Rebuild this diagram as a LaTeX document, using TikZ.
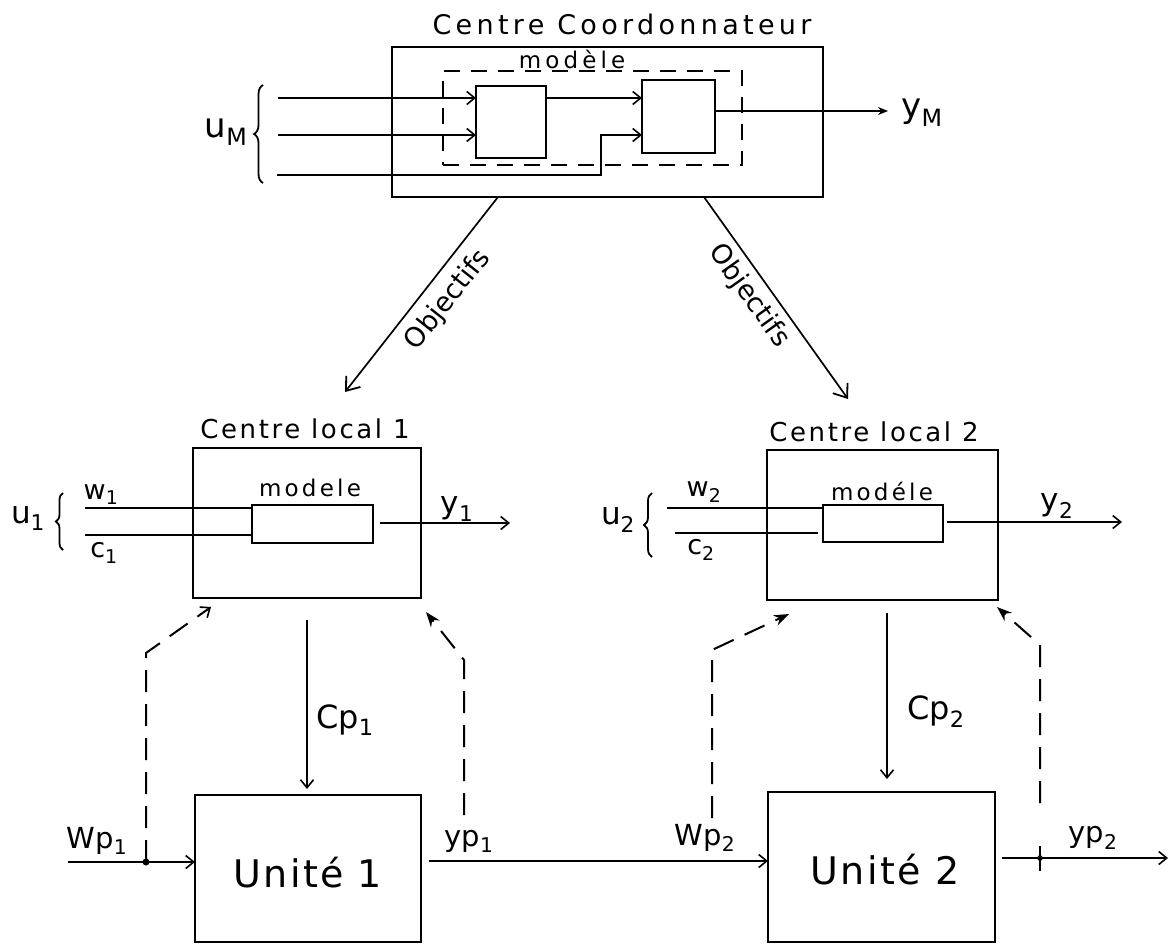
\documentclass[tikz,border=0pt]{standalone}
\usepackage{fontspec}
\setmainfont{DejaVu Sans}
\usetikzlibrary{arrows.meta,decorations.pathreplacing}
\newcommand{\fsz}[1]{\fontsize{#1}{#1}\selectfont}
\newcommand{\lsp}[1]{\addfontfeatures{LetterSpace=#1}}
\begin{document}
\begin{tikzpicture}[x=1pt,y=-1pt,line width=1.7pt,
  box/.style={draw,line width=1.9pt,inner sep=0pt,outer sep=0pt,anchor=north west},
  lbl/.style={inner sep=0pt},
  openarr/.style={-{Straight Barb[length=8pt,width=13pt,line width=1.6pt]}},
  bigarr/.style={-{Straight Barb[length=12pt,width=18pt,line width=1.8pt]}},
  fillarr/.style={-{Stealth[length=15pt,width=11pt]}},
  dsh/.style={dash pattern=on 22pt off 12pt,line width=2pt},
  mdash/.style={dash pattern=on 16pt off 11pt,line width=1.8pt},
  brc/.style={decorate,decoration={brace,amplitude=9pt},line width=1.8pt}]
\useasboundingbox (0,0) rectangle (1172,945);

% ---------------- Centre Coordonnateur ----------------
\node[box,minimum width=431pt,minimum height=150pt] (CC) at (392,47) {};
\node[lbl,font=\fsz{27}\lsp{16}] (tCC) at (622,24) {Centre Coordonnateur};
\node[box,mdash,minimum width=299pt,minimum height=94pt] (MOD) at (443,71) {};
\node[lbl,font=\fsz{23}\lsp{18}] (tMOD) at (572,59) {modèle};
\node[box,line width=1.8pt,minimum width=70pt,minimum height=72pt] (A) at (476,86) {};
\node[box,line width=1.8pt,minimum width=73pt,minimum height=73pt] (B) at (642,80) {};

\coordinate (in1) at (278,98);
\coordinate (in2) at (278,135);
\coordinate (in3) at (277,175);
\coordinate (k3) at (601,175);
\draw[openarr] (in1) -- (A.west |- in1);
\draw[openarr] (in2) -- (A.west |- in2);
\draw[openarr] (in3) -- (k3) -- (k3 |- in2) -- (B.west |- in2);
\draw[openarr] (A.east |- in1) -- (B.west |- in1);
\coordinate (yMt) at (888,111);
\draw[-{Stealth[length=10pt,width=8pt]}] (B.east |- yMt) -- (yMt);
\node[lbl,font=\fsz{34}] (yM) at (922,113) {y\textsubscript{M}};
\coordinate (bM1) at (263,183);
\coordinate (bM2) at (263,85);
\draw[brc] (bM1) -- (bM2);
\node[lbl,font=\fsz{34}] (uM) at (226,132) {u\textsubscript{M}};

% ---------------- Objectifs ----------------
\coordinate (o1s) at (498,197);
\coordinate (o1t) at (345,392);
\coordinate (o2s) at (704,197);
\coordinate (o2t) at (848,399);
\draw[bigarr] (o1s) -- (o1t);
\draw[bigarr] (o2s) -- (o2t);
\node[lbl,rotate=51.5,font=\fsz{27}] (ob1) at (448,300) {Objectifs};
\node[lbl,rotate=-54.5,font=\fsz{27}] (ob2) at (749,296) {Objectifs};

% ---------------- Centre local 1 ----------------
\node[box,minimum width=228pt,minimum height=150pt] (L1) at (193,448) {};
\node[lbl,font=\fsz{26}\lsp{10}] (tL1) at (305,429) {Centre local 1};
\node[box,line width=1.8pt,minimum width=121pt,minimum height=38pt] (M1) at (252,505) {};
\node[lbl,font=\fsz{23}\lsp{14}] (tM1) at (310,488) {modele};
\coordinate (w1s) at (85,508);
\coordinate (c1s) at (85,535);
\draw (w1s) -- (M1.west |- w1s);
\draw (c1s) -- (M1.west |- c1s);
\node[lbl,font=\fsz{27}] (w1) at (101,495) {w\textsubscript{1}};
\node[lbl,font=\fsz{27}] (c1) at (104,553) {c\textsubscript{1}};
\coordinate (b11) at (63,550);
\coordinate (b12) at (63,493);
\draw[brc,decoration={amplitude=7pt}] (b11) -- (b12);
\node[lbl,font=\fsz{31}] (u1) at (28,518) {u\textsubscript{1}};
\coordinate (y1s) at (380,523);
\coordinate (y1t) at (510,523);
\draw[openarr] (y1s) -- (y1t);
\node[lbl,font=\fsz{31}] (y1) at (457,509) {y\textsubscript{1}};

% ---------------- Centre local 2 ----------------
\node[box,minimum width=231pt,minimum height=150pt] (L2) at (767,450) {};
\node[lbl,font=\fsz{26}\lsp{10}] (tL2) at (874,432) {Centre local 2};
\node[box,line width=1.8pt,minimum width=120pt,minimum height=37pt] (M2) at (823,505) {};
\node[lbl,font=\fsz{23}\lsp{14}] (tM2) at (882,491) {modéle};
\coordinate (w2s) at (667,508);
\coordinate (c2s) at (675,533);
\draw (w2s) -- (M2.west |- w2s);
\draw (c2s) -- ([xshift=-5pt]M2.west |- c2s);
\node[lbl,font=\fsz{27}] (w2) at (704,492) {w\textsubscript{2}};
\node[lbl,font=\fsz{27}] (c2) at (701,550) {c\textsubscript{2}};
\coordinate (b21) at (652,557);
\coordinate (b22) at (652,493);
\draw[brc,decoration={amplitude=8pt}] (b21) -- (b22);
\node[lbl,font=\fsz{31}] (u2) at (618,520) {u\textsubscript{2}};
\coordinate (y2s) at (947,522);
\coordinate (y2t) at (1122,522);
\draw[openarr] (y2s) -- (y2t);
\node[lbl,font=\fsz{31}] (y2) at (1057,506) {y\textsubscript{2}};

% ---------------- Unites ----------------
\node[box,minimum width=226pt,minimum height=147pt] (U1) at (195,795) {};
\node[lbl,font=\fsz{38}\lsp{6}] (tU1) at (308,873) {Unité 1};
\node[box,minimum width=227pt,minimum height=150pt] (U2) at (768,792) {};
\node[lbl,font=\fsz{38}\lsp{6}] (tU2) at (885,870) {Unité 2};

% Cp arrows
\coordinate (cp1s) at (307,620);
\coordinate (cp1t) at (307,789);
\draw[openarr] (cp1s) -- (cp1t);
\node[lbl,font=\fsz{32}] (cp1) at (345,720) {Cp\textsubscript{1}};
\coordinate (cp2s) at (887,613);
\coordinate (cp2t) at (887,779);
\draw[openarr] (cp2s) -- (cp2t);
\node[lbl,font=\fsz{32}] (cp2) at (936,712) {Cp\textsubscript{2}};

% Wp1 input and feedback
\coordinate (wp1s) at (68,862);
\coordinate (d1) at (146,862);
\draw[openarr] (wp1s) -- (U1.west |- wp1s);
\fill (d1) circle (3.5pt);
\node[lbl,font=\fsz{29}] (wp1) at (97,841) {Wp\textsubscript{1}};
\coordinate (f1a) at (146,653);
\coordinate (f1b) at (211,607);
\draw[dsh,openarr] (d1) -- (f1a) -- (f1b);
\coordinate (f2s) at (464,815);
\coordinate (f2a) at (464,660);
\coordinate (f2b) at (426,612);
\draw[dsh,fillarr] (f2s) -- (f2a) -- (f2b);
\node[lbl,font=\fsz{29}] (yp1) at (469,841) {yp\textsubscript{1}};

% Unite 1 -> Unite 2
\draw[openarr] (U1.east |- 0,861) ++(8,0) -- (U2.west |- 0,861);
\node[lbl,font=\fsz{29}] (wp2) at (705,838) {Wp\textsubscript{2}};
\coordinate (f3s) at (712,818);
\coordinate (f3a) at (712,650);
\coordinate (f3b) at (789,614);
\draw[dsh,fillarr] (f3s) -- (f3a) -- (f3b);
\coordinate (f4s) at (1040,803);
\coordinate (f4a) at (1040,645);
\coordinate (f4b) at (997,607);
\draw[dsh,fillarr] (f4s) -- (f4a) -- (f4b);
\coordinate (yp2t) at (1168,858);
\coordinate (d2) at (1040,858);
\draw[openarr] (U2.east |- yp2t) ++(7,0) -- (yp2t);
\draw (1040,846) -- (1040,871);
\fill (d2) circle (2.8pt);
\node[lbl,font=\fsz{29}] (yp2) at (1093,838) {yp\textsubscript{2}};
\end{tikzpicture}
\end{document}
